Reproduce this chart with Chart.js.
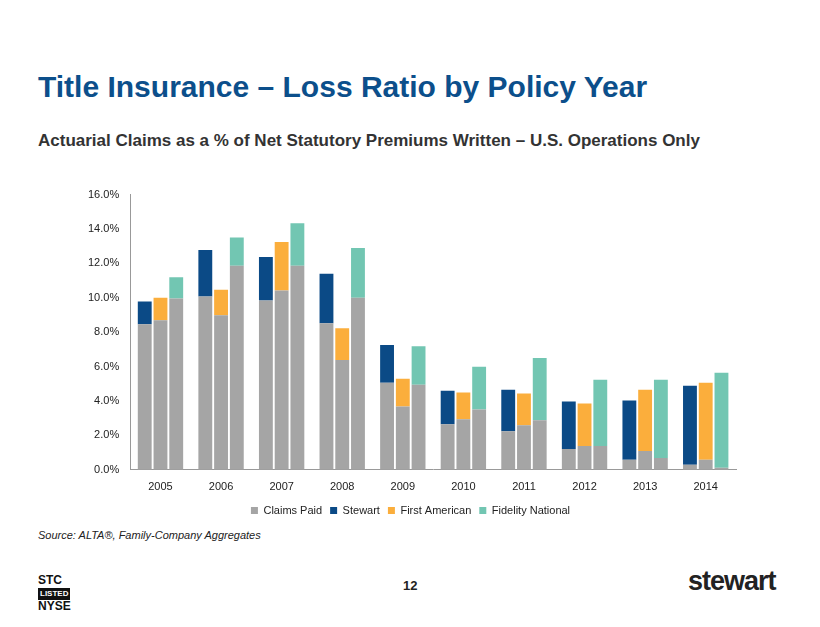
<!DOCTYPE html>
<html>
<head>
<meta charset="utf-8">
<script src="https://cdn.jsdelivr.net/npm/chart.js@4"></script>
<style>
  body { margin: 0; width: 820px; height: 627px; background: #fff; font-family: Arial, "Liberation Sans", sans-serif; position: relative; overflow: hidden; }
  .title { position: absolute; left: 38px; top: 70px; font-size: 30px; font-weight: bold; color: #0c4f8b; }
  .sub { position: absolute; left: 38px; top: 131px; font-size: 17px; font-weight: bold; color: #333; }
  .src { position: absolute; left: 38px; top: 529px; font-size: 11px; font-style: italic; color: #222; }
  .page { position: absolute; left: 403px; top: 578px; font-size: 13px; font-weight: bold; color: #222; }
  .stc { position: absolute; left: 38px; top: 574px; font-size: 12px; font-weight: bold; line-height: 12px; color: #111; }
  .stc span { display: inline-block; background: #111; color: #fff; font-size: 8px; padding: 0 2px; }
  .logo { position: absolute; left: 688px; top: 566px; font-size: 27px; font-weight: bold; color: #222; letter-spacing: -1px; }
  #wrap { position: absolute; left: 85px; top: 185px; width: 655px; height: 341px; }
</style>
</head>
<body>
<div class="title">Title Insurance – Loss Ratio by Policy Year</div>
<div class="sub">Actuarial Claims as a % of Net Statutory Premiums Written – U.S. Operations Only</div>
<div class="src">Source: ALTA®, Family-Company Aggregates</div>
<div class="page">12</div>
<div class="stc">STC<br><span>LISTED</span><br>NYSE</div>
<div class="logo">stewart</div>
<div id="wrap"><canvas id="c"></canvas></div>
<script>
// Năm chính sách
const years = ['2005', '2006', '2007', '2008', '2009', '2010', '2011', '2012', '2013', '2014'];

// Tổng tỷ lệ tổn thất (%)
const stewartTotal = [9.78, 12.78, 12.37, 11.4, 7.25, 4.6, 4.66, 3.97, 4.03, 4.89];
const faTotal = [10.0, 10.47, 13.24, 8.23, 5.3, 4.49, 4.43, 3.86, 4.66, 5.06];
const fnTotal = [11.2, 13.5, 14.33, 12.9, 7.19, 5.99, 6.5, 5.24, 5.24, 5.64];

// Phần đã chi trả (Claims Paid)
const stewartPaid = [8.46, 10.07, 9.84, 8.52, 5.06, 2.65, 2.24, 1.21, 0.58, 0.29];
const faPaid = [8.69, 8.98, 10.42, 6.39, 3.68, 2.94, 2.59, 1.38, 1.09, 0.58];
const fnPaid = [9.96, 11.86, 11.86, 10.0, 4.95, 3.51, 2.88, 1.38, 0.69, 0.12];

const GRAY = '#a5a5a5';
const rest = (tot, paid) => tot.map((v, i) => +(v - paid[i]).toFixed(2));

const common = { barPercentage: 0.88, categoryPercentage: 0.78 };

new Chart(document.getElementById('c'), {
    type: 'bar',
    data: {
        labels: years,
        datasets: [
            { label: 'Claims Paid', data: stewartPaid, backgroundColor: GRAY, stack: 's', ...common },
            { label: 'Claims Paid', data: faPaid, backgroundColor: GRAY, stack: 'f', ...common },
            { label: 'Claims Paid', data: fnPaid, backgroundColor: GRAY, stack: 'n', ...common },
            { label: 'Stewart', data: rest(stewartTotal, stewartPaid), backgroundColor: '#0b4a86', stack: 's', ...common },
            { label: 'First American', data: rest(faTotal, faPaid), backgroundColor: '#fbae3c', stack: 'f', ...common },
            { label: 'Fidelity National', data: rest(fnTotal, fnPaid), backgroundColor: '#72c6b2', stack: 'n', ...common }
        ]
    },
    options: {
        responsive: true,
        maintainAspectRatio: false,
        animation: false,
        layout: { padding: { left: 0, right: 4 } },
        plugins: {
            tooltip: { enabled: false },
            legend: {
                position: 'bottom',
                labels: {
                    boxWidth: 7,
                    boxHeight: 7,
                    padding: 8,
                    color: '#222',
                    font: { size: 11, family: 'Arial' },
                    filter: (item) => item.datasetIndex !== 1 && item.datasetIndex !== 2
                }
            }
        },
        scales: {
            x: {
                stacked: true,
                grid: { display: false },
                border: { color: '#999' },
                ticks: { color: '#222', font: { size: 11, family: 'Arial' } }
            },
            y: {
                stacked: true,
                min: 0,
                max: 16,
                ticks: {
                    stepSize: 2,
                    color: '#222',
                    font: { size: 11, family: 'Arial' },
                    callback: (v) => v.toFixed(1) + '%'
                },
                grid: { display: false },
                border: { color: '#999' }
            }
        }
    }
});
</script>
</body>
</html>
